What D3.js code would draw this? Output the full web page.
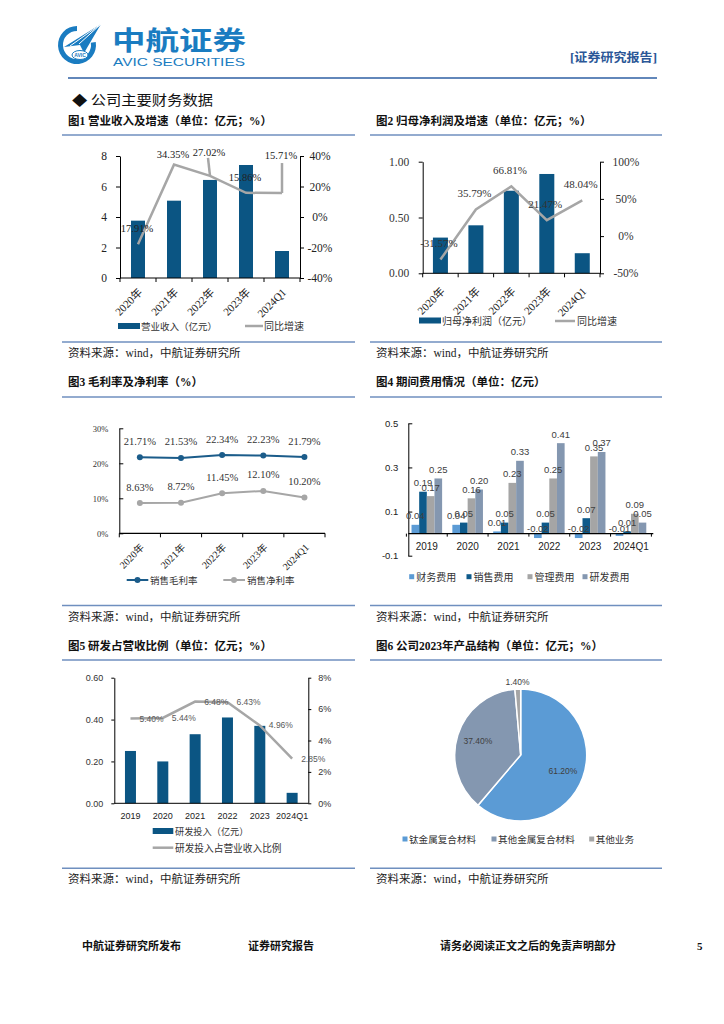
<!DOCTYPE html>
<html><head><meta charset="utf-8">
<script src="https://cdn.jsdelivr.net/npm/d3@7"></script>
<style>body{margin:0;background:#fff}svg{display:block}</style>
</head><body>
<svg id="page" width="724" height="1024"></svg>
<script>
// ---------------- DATA ----------------
const years5 = ["2020年", "2021年", "2022年", "2023年", "2024Q1"];
const revenue = [3.76, 5.07, 6.43, 7.41, 1.77];
const revenueGrowth = [-17.91, 34.35, 27.02, 15.86, 15.71];
const revenueGrowthLabels = ["17.91%", "34.35%", "27.02%", "15.86%", "15.71%"];
const netProfit = [0.32, 0.43, 0.74, 0.89, 0.18];
const netProfitGrowth = [-31.57, 35.79, 66.81, 21.47, 48.04];
const grossMargin = [21.71, 21.53, 22.34, 22.23, 21.79];
const netMargin = [8.63, 8.72, 11.45, 12.10, 10.20];
const years6 = ["2019", "2020", "2021", "2022", "2023", "2024Q1"];
const expenseNames = ["财务费用", "销售费用", "管理费用", "研发费用"];
const financeExp = [0.04, 0.04, 0.01, -0.02, -0.02, -0.01];
const salesExp = [0.19, 0.05, 0.05, 0.05, 0.07, 0.01];
const adminExp = [0.17, 0.16, 0.23, 0.25, 0.35, 0.09];
const rdExp = [0.25, 0.20, 0.33, 0.41, 0.37, 0.05];
const rdInvest = [0.25, 0.20, 0.33, 0.41, 0.37, 0.05];
const rdRatio = [5.40, 5.44, 6.48, 6.43, 4.96, 2.85];
const productNames = ["钛金属复合材料", "其他金属复合材料", "其他业务"];
const productShare = [61.20, 37.40, 1.40];
const ticks1L = [0, 2, 4, 6, 8], ticks1R = [-40, -20, 0, 20, 40];
const ticks2L = [0, 0.5, 1.0], ticks2R = [-50, 0, 50, 100];
const ticks3 = [0, 10, 20, 30];
const ticks4 = [-0.1, 0.1, 0.3, 0.5];
const ticks5L = [0, 0.2, 0.4, 0.6], ticks5R = [0, 2, 4, 6, 8];

// ---------------- STYLE ----------------
const SERIF = "'Liberation Serif','Times New Roman','Noto Sans CJK SC',serif";
const SANS = "'Liberation Sans',Arial,'Noto Sans CJK SC',sans-serif";
const CJK = "'Noto Sans CJK SC','Noto Sans',sans-serif";
const COL = {dark: "#0B5583", gray: "#A6A6A6", blue: "#1B5C8A", fin: "#5B9BD5",
  sales: "#0E5A8A", admin: "#A5A5A5", rd: "#8497B0", rule: "#6F8FBF", head: "#1A7CC1"};
const svg = d3.select("#page");
const fmt = f => v => d3.format(f)(v).replace("−", "-");

function txt(x, y, s, size, opts = {}) {
  const t = svg.append("text").attr("x", x).attr("y", y).text(s)
    .attr("font-size", size).attr("font-family", opts.font || CJK)
    .attr("fill", opts.fill || "#222");
  if (opts.bold) t.attr("font-weight", "bold");
  if (opts.anchor) t.attr("text-anchor", opts.anchor);
  if (opts.len) t.attr("textLength", opts.len).attr("lengthAdjust", "spacingAndGlyphs");
  return t;
}
function hline(x0, x1, y, color, w) {
  svg.append("line").attr("x1", x0).attr("x2", x1).attr("y1", y).attr("y2", y)
    .attr("stroke", color).attr("stroke-width", w);
}
function frame(x0, x1, title, titleY, lineY, botY) {
  txt(x0 + 6, titleY, title, 11.5, {bold: true, font: SERIF, fill: "#111"});
  hline(x0, x1, lineY, COL.rule, 1.5);
  hline(x0, x1, botY, COL.rule, 1.5);
  txt(x0 + 6, botY + 15, "资料来源：wind，中航证券研究所", 11.5, {font: SERIF, fill: "#222"});
}
function styleAxis(g, font, size, fill) {
  g.attr("font-family", font).attr("font-size", size);
  g.selectAll("text").attr("fill", fill || "#222");
  g.selectAll("line").attr("stroke", "#000");
  g.select(".domain").attr("stroke", "#000");
}
function boundaryTicks(x, y, len) {
  const b = [x.range()[0]].concat(x.domain().map(d => x(d) + x.bandwidth()));
  b.forEach(bx => svg.append("line").attr("x1", bx).attr("x2", bx).attr("y1", y).attr("y2", y + len)
    .attr("stroke", "#000").attr("stroke-width", 1));
}
function rotLabels(x, cats, y, size) {
  cats.forEach(c => svg.append("text").text(c)
    .attr("transform", `translate(${x(c) + x.bandwidth() / 2 + 5},${y}) rotate(-45)`)
    .attr("text-anchor", "end").attr("font-family", SERIF).attr("font-size", size).attr("fill", "#222"));
}

// ---------------- HEADER ----------------
(function header() {
  const g = svg.append("g");
  const arc = d3.arc().innerRadius(14).outerRadius(19).startAngle(Math.PI * 0.45).endAngle(Math.PI * 2);
  g.append("path").attr("d", arc()).attr("transform", "translate(77,45)").attr("fill", COL.head);
  g.append("path").attr("d", "M64,47 L101,24 L84,53 L80,45 Z").attr("fill", COL.head);
  g.append("path").attr("d", "M70,46 L101,24 L79,44").attr("fill", "none").attr("stroke", "#fff").attr("stroke-width", 1);
  g.append("ellipse").attr("cx", 80).attr("cy", 55).attr("rx", 8).attr("ry", 4.5)
    .attr("fill", "#fff").attr("stroke", COL.head).attr("stroke-width", 1);
  g.append("text").attr("x", 80).attr("y", 57).attr("text-anchor", "middle").attr("font-size", 5)
    .attr("font-family", SANS).attr("font-weight", "bold").attr("fill", COL.head).text("AVIC");
  txt(112, 50, "中航证券", 26, {bold: true, fill: COL.head, len: 134});
  txt(113, 66, "AVIC SECURITIES", 10.5, {font: SANS, fill: COL.head, len: 132});
  txt(570, 62, "[证券研究报告]", 12.5, {bold: true, font: SERIF, fill: "#2B5797", len: 87});
  hline(68, 657, 78, "#2E5FA3", 1.5);
  txt(72, 105, "◆ 公司主要财务数据", 13.5, {fill: "#111", len: 141});
})();

// ---------------- CHART 1 ----------------
(function chart1() {
  frame(62, 355, "图1 营业收入及增速（单位：亿元；%）", 125, 135, 342);
  const x = d3.scaleBand().domain(years5).range([120, 300]);
  const yL = d3.scaleLinear().domain([0, 8]).range([278, 156]);
  const yR = d3.scaleLinear().domain([-40, 40]).range([278, 156]);
  const cx = d => x(d) + x.bandwidth() / 2;
  svg.append("g").selectAll("rect").data(years5).join("rect")
    .attr("x", d => cx(d) - 7).attr("width", 14)
    .attr("y", (d, i) => yL(revenue[i])).attr("height", (d, i) => yL(0) - yL(revenue[i]))
    .attr("fill", COL.dark);
  const gl = svg.append("g").attr("transform", "translate(120,0)")
    .call(d3.axisLeft(yL).tickValues(ticks1L).tickSize(4).tickSizeOuter(0).tickPadding(9));
  styleAxis(gl, SERIF, 11.5);
  const gr = svg.append("g").attr("transform", "translate(300,0)")
    .call(d3.axisRight(yR).tickValues(ticks1R).tickFormat(d => d + "%").tickSize(4).tickSizeOuter(0));
  styleAxis(gr, SERIF, 11.5);
  gr.selectAll("text").attr("text-anchor", "middle").attr("x", 20);
  hline(120, 300, 278, "#000", 1);
  boundaryTicks(x, 278, 4);
  rotLabels(x, years5, 293, 11);
  const pts = years5.map((d, i) => [cx(d), yR(revenueGrowth[i])]);
  svg.append("path").attr("d", d3.line()(pts)).attr("fill", "none")
    .attr("stroke", COL.gray).attr("stroke-width", 2.5);
  const dy = [-16, -10, -23, -15, -38];
  [[2, 5], [4, 8]].forEach(([i, gap]) => {
    svg.append("line").attr("x1", pts[i][0]).attr("x2", pts[i][0] - (i === 2 ? 2 : 0))
      .attr("y1", pts[i][1]).attr("y2", pts[i][1] + dy[i] + gap)
      .attr("stroke", COL.gray).attr("stroke-width", 2.5);
  });
  pts.forEach((p, i) => txt(p[0] - 1, p[1] + dy[i] + 3.5, revenueGrowthLabels[i], 10.5,
    {font: SERIF, anchor: "middle", fill: "#222"}));
  svg.append("rect").attr("x", 118).attr("y", 323).attr("width", 22).attr("height", 6).attr("fill", COL.dark);
  txt(141, 330, "营业收入（亿元）", 9.5, {fill: "#333"});
  hline(245, 263, 326, COL.gray, 2.5);
  txt(264, 330, "同比增速", 10, {fill: "#333"});
})();

// ---------------- CHART 2 ----------------
(function chart2() {
  frame(370, 662, "图2 归母净利润及增速（单位：亿元；%）", 125, 135, 342);
  const x = d3.scaleBand().domain(years5).range([422.7, 600]);
  const yL = d3.scaleLinear().domain([0, 1]).range([273.3, 161.7]);
  const yR = d3.scaleLinear().domain([-50, 100]).range([273.3, 161.7]);
  const cx = d => x(d) + x.bandwidth() / 2;
  svg.append("g").selectAll("rect").data(years5).join("rect")
    .attr("x", d => cx(d) - 7.5).attr("width", 15)
    .attr("y", (d, i) => yL(netProfit[i])).attr("height", (d, i) => yL(0) - yL(netProfit[i]))
    .attr("fill", COL.dark);
  const gl = svg.append("g").attr("transform", "translate(422.7,0)")
    .call(d3.axisLeft(yL).tickValues(ticks2L).tickFormat(d3.format(".2f")).tickSize(4).tickSizeOuter(0).tickPadding(9.5));
  styleAxis(gl, SERIF, 11.5, "#333");
  const gr = svg.append("g").attr("transform", "translate(600,0)")
    .call(d3.axisRight(yR).tickValues(ticks2R).tickFormat(d => d + "%").tickSize(4).tickSizeOuter(0));
  styleAxis(gr, SERIF, 11.5, "#333");
  gr.selectAll("text").attr("text-anchor", "middle").attr("x", 26);
  hline(422.7, 600, 273.3, "#000", 1);
  boundaryTicks(x, 273.3, 4);
  rotLabels(x, years5, 292, 11);
  const pts = years5.map((d, i) => [cx(d), yR(netProfitGrowth[i])]);
  svg.append("path").attr("d", d3.line()(pts)).attr("fill", "none")
    .attr("stroke", COL.gray).attr("stroke-width", 2.5);
  pts.forEach((p, i) => txt(p[0] - 1.5, p[1] - 12.5, netProfitGrowth[i].toFixed(2) + "%", 11,
    {font: SERIF, anchor: "middle", fill: "#333"}));
  svg.append("rect").attr("x", 419).attr("y", 317.5).attr("width", 22).attr("height", 6).attr("fill", COL.dark);
  txt(442, 325, "归母净利润（亿元）", 10, {fill: "#333"});
  hline(555, 575, 321, COL.gray, 2.5);
  txt(577, 325, "同比增速", 10, {fill: "#333"});
})();

// ---------------- CHART 3 ----------------
(function chart3() {
  frame(62, 355, "图3 毛利率及净利率（%）", 386, 397, 605.5);
  const x = d3.scaleBand().domain(years5).range([119.3, 325]);
  const y = d3.scaleLinear().domain([0, 30]).range([533.3, 428.3]);
  const cx = d => x(d) + x.bandwidth() / 2;
  const g = svg.append("g").attr("transform", "translate(119.3,0)")
    .call(d3.axisLeft(y).tickValues(ticks3).tickFormat(d => d + "%").tickSize(-4).tickSizeOuter(0).tickPadding(11));
  styleAxis(g, SERIF, 8.5, "#333");
  hline(119.3, 325, 533.3, "#000", 1.2);
  boundaryTicks(x, 533.3, 4);
  rotLabels(x, years5, 548, 10);
  [[grossMargin, COL.blue], [netMargin, COL.gray]].forEach(([arr, col]) => {
    const pts = years5.map((d, i) => [cx(d), y(arr[i])]);
    svg.append("path").attr("d", d3.line()(pts)).attr("fill", "none").attr("stroke", col).attr("stroke-width", 2);
    svg.append("g").selectAll("circle").data(pts).join("circle")
      .attr("cx", p => p[0]).attr("cy", p => p[1]).attr("r", 3).attr("fill", col);
    pts.forEach((p, i) => txt(p[0], p[1] - 12.5, arr[i].toFixed(2) + "%", 10.5,
      {font: SERIF, anchor: "middle", fill: "#333"}));
  });
  hline(126.7, 148.3, 580, COL.blue, 2);
  svg.append("circle").attr("cx", 137.5).attr("cy", 580).attr("r", 3).attr("fill", COL.blue);
  txt(150, 584, "销售毛利率", 9.5, {fill: "#333"});
  hline(223.3, 245, 580, COL.gray, 2);
  svg.append("circle").attr("cx", 234).attr("cy", 580).attr("r", 3).attr("fill", COL.gray);
  txt(247, 584, "销售净利率", 9.5, {fill: "#333"});
})();

// ---------------- CHART 4 ----------------
(function chart4() {
  frame(370, 662, "图4 期间费用情况（单位：亿元）", 386, 397, 605.5);
  const series = [financeExp, salesExp, adminExp, rdExp];
  const colors = [COL.fin, COL.sales, COL.admin, COL.rd];
  const x = d3.scaleBand().domain(years6).range([406.4, 651.4]);
  const xs = d3.scaleBand().domain(expenseNames).range([0, 30.6]);
  const y = d3.scaleLinear().domain([-0.1, 0.5]).range([555.7, 423.3]);
  const gx = d => x(d) + (x.bandwidth() - 30.6) / 2;
  const g = svg.append("g").attr("transform", "translate(408.3,0)")
    .call(d3.axisLeft(y).tickValues(ticks4).tickFormat(fmt(".1f")).tickSize(-4).tickSizeOuter(0).tickPadding(10));
  styleAxis(g, SANS, 9.5, "#222");
  const items = [];
  years6.forEach((yr, i) => series.forEach((arr, s) => {
    items.push({v: arr[i], s, bx: gx(yr) + xs(expenseNames[s])});
  }));
  items.forEach(d => svg.append("rect").attr("x", d.bx).attr("width", xs.bandwidth())
    .attr("y", Math.min(y(d.v), y(0))).attr("height", Math.abs(y(d.v) - y(0))).attr("fill", colors[d.s]));
  hline(408.3, 653.3, y(0), "#000", 1.2);
  boundaryTicks(x, y(0), 3);
  items.forEach(d => {
    const ly = d.v >= 0 ? y(d.v) - 5.5 : y(0) - 1.5;
    txt(d.bx + xs.bandwidth() / 2, ly, fmt(".2f")(d.v), 9.5, {font: SANS, anchor: "middle", fill: "#404040"});
  });
  years6.forEach(yr => txt(x(yr) + x.bandwidth() / 2, 549.5, yr, 10, {font: SANS, anchor: "middle", fill: "#222"}));
  const lx = [411.7, 469, 530, 585];
  expenseNames.forEach((n, s) => {
    svg.append("rect").attr("x", lx[s] - 2.5).attr("y", 574.2).attr("width", 5).attr("height", 5).attr("fill", colors[s]);
    txt(lx[s] + 4.5, 580.5, n, 10, {fill: "#333"});
  });
})();

// ---------------- CHART 5 ----------------
(function chart5() {
  frame(62, 355, "图5 研发占营收比例（单位：亿元；%）", 650, 660, 868.3);
  const x = d3.scaleBand().domain(years6).range([114.3, 308.3]);
  const yL = d3.scaleLinear().domain([0, 0.6]).range([803.3, 677.7]);
  const yR = d3.scaleLinear().domain([0, 8]).range([803.3, 677.7]);
  const cx = d => x(d) + x.bandwidth() / 2;
  svg.append("g").selectAll("rect").data(years6).join("rect")
    .attr("x", d => cx(d) - 5.5).attr("width", 11)
    .attr("y", (d, i) => yL(rdInvest[i])).attr("height", (d, i) => yL(0) - yL(rdInvest[i]))
    .attr("fill", COL.dark);
  const gl = svg.append("g").attr("transform", "translate(114.3,0)")
    .call(d3.axisLeft(yL).tickValues(ticks5L).tickFormat(d3.format(".2f")).tickSize(3).tickSizeOuter(0).tickPadding(8));
  styleAxis(gl, SANS, 9, "#333");
  const gr = svg.append("g").attr("transform", "translate(308.3,0)")
    .call(d3.axisRight(yR).tickValues(ticks5R).tickFormat(d => d + "%").tickSize(3).tickSizeOuter(0).tickPadding(7));
  styleAxis(gr, SANS, 9, "#333");
  hline(114.3, 308.3, 803.3, "#000", 1);
  years6.forEach(yr => txt(cx(yr), 819, yr, 9, {font: SANS, anchor: "middle", fill: "#222"}));
  const pts = years6.map((d, i) => [cx(d), yR(rdRatio[i])]);
  svg.append("path").attr("d", d3.line()(pts)).attr("fill", "none")
    .attr("stroke", COL.gray).attr("stroke-width", 2.5);
  pts.forEach((p, i) => txt(p[0] + 9, p[1] + 3, rdRatio[i].toFixed(2) + "%", 8.5, {font: SANS, fill: "#595959"}));
  svg.append("rect").attr("x", 152.7).attr("y", 828).attr("width", 20.6).attr("height", 6).attr("fill", COL.dark);
  txt(175, 835, "研发投入（亿元）", 9.2, {fill: "#333"});
  hline(152.7, 173.3, 847.7, COL.gray, 2.5);
  txt(175, 851.5, "研发投入占营业收入比例", 9.7, {fill: "#333"});
})();

// ---------------- CHART 6 ----------------
(function chart6() {
  frame(370, 662, "图6 公司2023年产品结构（单位：亿元；%）", 650, 660, 868.3);
  const colors = [COL.fin, COL.rd, COL.admin];
  const pie = d3.pie().sort(null).value(d => d)(productShare);
  const r = 66, c = [520.7, 755];
  const arc = d3.arc().innerRadius(0).outerRadius(r);
  const g = svg.append("g").attr("transform", `translate(${c[0]},${c[1]})`);
  g.selectAll("path").data(pie).join("path").attr("d", arc)
    .attr("fill", (d, i) => colors[i]).attr("stroke", "#fff").attr("stroke-width", 1.5);
  pie.forEach((d, i) => {
    const a = (d.startAngle + d.endAngle) / 2;
    const rr = i === 2 ? 73 : 45;
    g.append("text").attr("x", Math.sin(a) * rr).attr("y", -Math.cos(a) * rr + 3)
      .attr("text-anchor", "middle").attr("font-family", SANS).attr("font-size", 8.5)
      .attr("fill", "#404040").text(productShare[i].toFixed(2) + "%");
  });
  const lx = [405, 494, 591.7];
  productNames.forEach((n, i) => {
    svg.append("rect").attr("x", lx[i] - 2.5).attr("y", 836.5).attr("width", 5).attr("height", 5).attr("fill", colors[i]);
    txt(lx[i] + 4, 842.5, n, 9.6, {fill: "#333"});
  });
})();

// ---------------- FOOTER ----------------
txt(82, 950, "中航证券研究所发布", 11, {bold: true, font: SERIF, fill: "#111"});
txt(248, 950, "证券研究报告", 11, {bold: true, font: SERIF, fill: "#111"});
txt(440, 950, "请务必阅读正文之后的免责声明部分", 11, {bold: true, font: SERIF, fill: "#111"});
txt(697, 950, "5", 11, {bold: true, font: SERIF, fill: "#111"});
</script>
</body></html>
